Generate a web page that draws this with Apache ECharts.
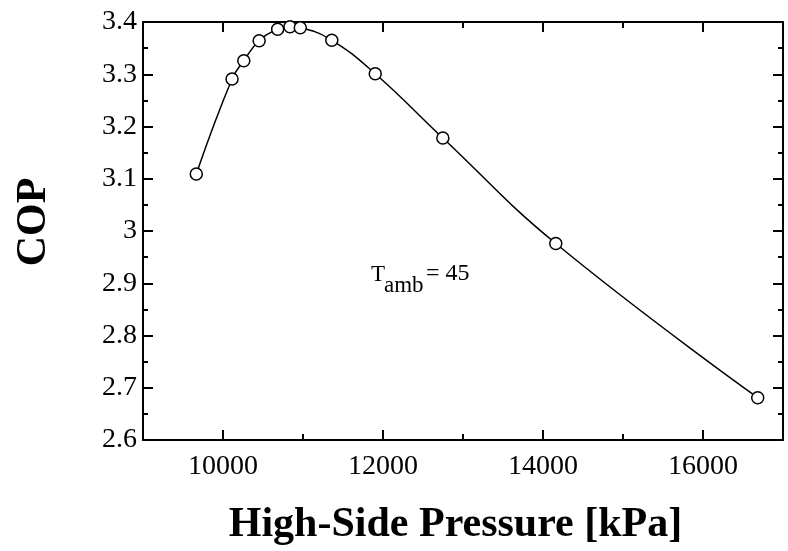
<!DOCTYPE html>
<html>
<head>
<meta charset="utf-8">
<script src="https://cdn.jsdelivr.net/npm/echarts@6/dist/echarts.min.js"></script>
<style>
html,body{margin:0;padding:0;background:#fff;}
#c{width:788px;height:551px;}
</style>
</head>
<body>
<div id="c"></div>
<script>
// Data
const pressure = [9666, 10113, 10260, 10452, 10683, 10837, 10966, 11360, 11903, 12748, 14160, 16684];
const cop      = [3.109, 3.291, 3.326, 3.364, 3.386, 3.391, 3.389, 3.365, 3.301, 3.178, 2.976, 2.681];
const xMajorTicks = [10000, 12000, 14000, 16000];
const xTitle = 'High-Side Pressure [kPa]';
const yTitle = 'COP';

const FONT = '"Liberation Serif", "Times New Roman", serif';
const BLACK = '#000';

const points = pressure.map((p, i) => [p, cop[i]]);

function xAxisPair(position) {
  const isBottom = position === 'bottom';
  return [
    {
      type: 'value', position: position, min: 9000, max: 17000, interval: 1000,
      axisLine: { show: true, onZero: false, lineStyle: { color: BLACK, width: 2 } },
      axisTick: { show: true, inside: true, length: 6, lineStyle: { color: BLACK, width: 2 } },
      axisLabel: {
        show: isBottom, margin: 13, color: BLACK, fontFamily: FONT, fontSize: 28,
        formatter: v => (xMajorTicks.indexOf(v) >= 0 ? String(v) : '')
      },
      splitLine: { show: false },
      name: isBottom ? xTitle : '',
      nameLocation: 'middle', nameGap: 64,
      nameTextStyle: { color: BLACK, fontFamily: FONT, fontSize: 42, fontWeight: 'bold', padding: [0, 15, 0, 0] }
    },
    {
      type: 'value', position: position, min: 9000, max: 17000, interval: 1000,
      axisLine: { show: false, onZero: false },
      axisTick: { show: true, inside: true, length: 10, customValues: xMajorTicks, lineStyle: { color: BLACK, width: 2 } },
      axisLabel: { show: false },
      splitLine: { show: false }
    }
  ];
}

function yAxisDef(position) {
  const isLeft = position === 'left';
  return {
    type: 'value', position: position, min: 2.6, max: 3.4, interval: 0.1,
    axisLine: { show: true, onZero: false, lineStyle: { color: BLACK, width: 2 } },
    axisTick: { show: true, inside: true, length: 10, lineStyle: { color: BLACK, width: 2 } },
    minorTick: { show: true, splitNumber: 2, length: 5, lineStyle: { color: BLACK, width: 2 } },
    axisLabel: {
      show: isLeft, margin: 6, color: BLACK, fontFamily: FONT, fontSize: 28,
      formatter: v => String(+v.toFixed(1))
    },
    splitLine: { show: false },
    minorSplitLine: { show: false },
    name: isLeft ? yTitle : '',
    nameLocation: 'middle', nameRotate: 90, nameGap: 88,
    nameTextStyle: { color: BLACK, fontFamily: FONT, fontSize: 42, fontWeight: 'bold', padding: [0, 0, 0, 18] }
  };
}

const chart = echarts.init(document.getElementById('c'), null, { renderer: 'canvas' });
chart.setOption({
  animation: false,
  backgroundColor: '#fff',
  grid: { left: 143, right: 5, top: 22, bottom: 108, containLabel: false },
  xAxis: xAxisPair('bottom').concat(xAxisPair('top')),
  yAxis: [yAxisDef('left'), yAxisDef('right')],
  series: [{
    type: 'line',
    xAxisIndex: 0, yAxisIndex: 0,
    data: points,
    smooth: 0.45,
    symbol: 'circle',
    symbolSize: 12,
    showAllSymbol: true,
    lineStyle: { color: BLACK, width: 1.5 },
    itemStyle: { color: '#fff', borderColor: BLACK, borderWidth: 1.5 },
    z: 3
  }],
  graphic: [
    { type: 'text', left: 371, top: 263, style: { text: 'T', font: '23px ' + FONT, fill: BLACK } },
    { type: 'text', left: 384, top: 274, style: { text: 'amb', font: '23px ' + FONT, fill: BLACK } },
    { type: 'text', left: 426, top: 262, style: { text: '= 45', font: '24px ' + FONT, fill: BLACK } }
  ]
});
</script>
</body>
</html>
